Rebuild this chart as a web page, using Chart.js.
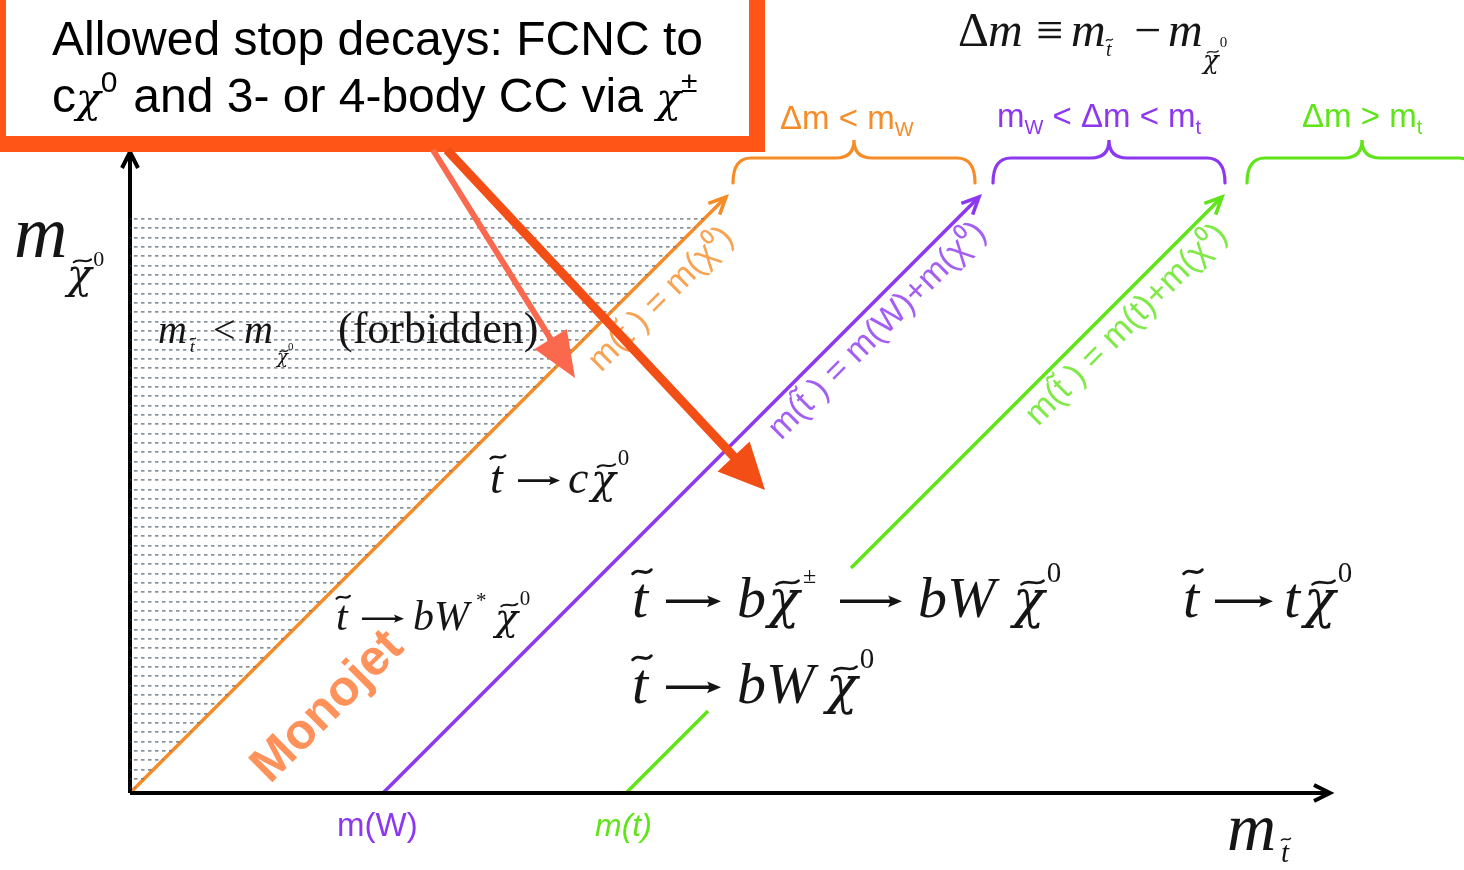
<!DOCTYPE html>
<html><head><meta charset="utf-8">
<script src="https://cdn.jsdelivr.net/npm/chart.js@4.4.1/dist/chart.umd.min.js"></script>
<style>html,body{margin:0;padding:0;background:#fff;overflow:hidden}</style>
</head><body>
<canvas id="c" width="1464" height="870"></canvas>
<script>
// Stop / neutralino mass plane: x = m(stop), y = m(neutralino), in diagram units
const boundaryNames   = ['m(t̃ ) = m(χ⁰)', 'm(t̃ ) = m(W)+m(χ⁰)', 'm(t̃ ) = m(t)+m(χ⁰)'];
const boundaryOffsets = [0, 253, 496];          // Δm along each boundary: 0, m(W), m(t)
const boundaryTop     = 596;                     // neutralino mass where the boundaries stop
const topLineGap      = [82, 225];               // y range where the m(t) boundary is interrupted
const forbiddenTop    = 578;                     // upper edge of the shaded forbidden region
const axisEnds        = { x: 1200, y: 641 };
const axisTickNames   = ['m(W)', 'm(t)'];

const ORANGE = 'rgb(246,140,40)';
const PURPLE = 'rgb(140,55,240)';
const GREEN  = 'rgb(95,228,25)';
const INK    = '#151515';
const SERIF  = '"Liberation Serif","DejaVu Serif",serif';
const SANS   = '"Liberation Sans",Arial,sans-serif';
const CHI_F  = '"DejaVu Serif",serif';          // Greek chi with a proper descender

// dotted fill for the forbidden region
function hatchPattern() {
  const c = document.createElement('canvas');
  c.width = 7; c.height = 28;
  const g = c.getContext('2d');
  g.fillStyle = 'rgba(105,118,128,0.8)';
  [3, 13, 22].forEach(r => g.fillRect(1, r, 3.5, 1.7));
  return document.getElementById('c').getContext('2d').createPattern(c, 'repeat');
}

function seg(x0, y0, x1, y1) { return [{x: x0, y: y0}, {x: x1, y: y1}]; }
function lineDs(data, color, width, extra) {
  return Object.assign({ data, showLine: true, borderColor: color, borderWidth: width,
    pointRadius: 0, pointHoverRadius: 0, fill: false }, extra || {});
}

const datasets = [
  lineDs(seg(0, 0, forbiddenTop, forbiddenTop), 'rgba(0,0,0,0)', 0,
         { fill: { value: forbiddenTop }, backgroundColor: hatchPattern() }),
  lineDs(seg(0, 0, axisEnds.x, 0), '#000', 4),
  lineDs(seg(0, 0, 0, axisEnds.y), '#000', 4),
  lineDs(seg(boundaryOffsets[0], 0, boundaryOffsets[0] + boundaryTop, boundaryTop), ORANGE, 3.6),
  lineDs(seg(boundaryOffsets[1], 0, boundaryOffsets[1] + boundaryTop, boundaryTop), PURPLE, 3.6),
  lineDs(seg(boundaryOffsets[2], 0, boundaryOffsets[2] + topLineGap[0], topLineGap[0]), GREEN, 3.6),
  lineDs(seg(boundaryOffsets[2] + topLineGap[1], topLineGap[1], boundaryOffsets[2] + boundaryTop, boundaryTop), GREEN, 3.6)
];

function tilde(ctx, cx, cy, w, size, color) {
  const a = size * 0.035;
  ctx.save();
  ctx.strokeStyle = color; ctx.lineWidth = Math.max(1.2, size * 0.05); ctx.lineCap = 'round';
  ctx.beginPath();
  ctx.moveTo(cx - w / 2, cy + a);
  ctx.bezierCurveTo(cx - w / 6, cy - a * 2.6, cx + w / 6, cy + a * 2.6, cx + w / 2, cy - a);
  ctx.stroke();
  ctx.restore();
}

function mathArrow(ctx, x, y, len, size, color) {
  const yy = y - size * 0.27, head = size * 0.24, half = size * 0.1;
  ctx.save();
  ctx.strokeStyle = color; ctx.fillStyle = color;
  ctx.lineWidth = size * 0.06;
  ctx.beginPath(); ctx.moveTo(x, yy); ctx.lineTo(x + len - head * 0.7, yy); ctx.stroke();
  ctx.beginPath();
  ctx.moveTo(x + len, yy); ctx.lineTo(x + len - head, yy - half);
  ctx.quadraticCurveTo(x + len - head * 0.7, yy, x + len - head, yy + half);
  ctx.closePath(); ctx.fill();
  ctx.restore();
}

// rich text: each part {t, i, s, dy, x, gap, tilde, arrow, sx, f}
function rich(ctx, x, y, size, parts, color, family) {
  let cx = x;
  ctx.textBaseline = 'alphabetic';
  ctx.textAlign = 'left';
  for (const p of parts) {
    if (p.x !== undefined) cx = p.x;
    const isChi = p.t === 'χ';
    const s = size * (p.s || 1) * (isChi && !p.f ? 0.9 : 1);
    const by = y + (p.dy || 0) * size;
    if (p.arrow) {
      mathArrow(ctx, cx, by, p.arrow, s, color);
      cx += p.arrow + (p.gap || 0) * size;
      continue;
    }
    const sx = p.sx || 1;
    const fam = p.f || (isChi ? CHI_F : (family || SERIF));
    ctx.font = (p.b ? 'bold ' : '') + (p.i ? 'italic ' : '') + Math.round(s) + 'px ' + fam;
    ctx.fillStyle = color;
    ctx.save();
    ctx.translate(cx, by); ctx.scale(sx, 1);
    ctx.fillText(p.t, 0, 0);
    ctx.restore();
    const w = ctx.measureText(p.t).width * sx;
    if (p.tilde) {
      const tall = p.t === 't';
      tilde(ctx, cx + w * 0.62, by - s * (tall ? 0.78 : 0.66), Math.max(w * 0.7, s * 0.32), s, color);
    }
    cx += w + (p.gap || 0) * size;
  }
  return cx;
}

function arrowHead(ctx, x, y, ang, len, half, color, filled, lw) {
  ctx.save();
  ctx.translate(x, y); ctx.rotate(ang);
  ctx.beginPath();
  ctx.moveTo(-len, -half); ctx.lineTo(0, 0); ctx.lineTo(-len, half);
  if (filled) { ctx.closePath(); ctx.fillStyle = color; ctx.fill(); }
  else { ctx.strokeStyle = color; ctx.lineWidth = lw || 3; ctx.lineJoin = 'miter'; ctx.stroke(); }
  ctx.restore();
}

function brace(ctx, x1, x2, y, color) {
  const cx = (x1 + x2) / 2, r = 18, drop = 25, rise = 18;
  ctx.save();
  ctx.strokeStyle = color; ctx.lineWidth = 3.2; ctx.lineCap = 'round';
  ctx.beginPath();
  ctx.moveTo(x1, y + drop);
  ctx.quadraticCurveTo(x1, y, x1 + r, y);
  ctx.lineTo(cx - r, y);
  ctx.quadraticCurveTo(cx, y, cx, y - rise);
  ctx.quadraticCurveTo(cx, y, cx + r, y);
  ctx.lineTo(x2 - r, y);
  ctx.quadraticCurveTo(x2, y, x2, y + drop);
  ctx.stroke();
  ctx.restore();
}

function pointer(ctx, x0, y0, x1, y1, color, width, len, half) {
  const ang = Math.atan2(y1 - y0, x1 - x0);
  ctx.save();
  ctx.strokeStyle = color; ctx.lineWidth = width; ctx.lineCap = 'butt';
  ctx.beginPath();
  ctx.moveTo(x0, y0);
  ctx.lineTo(x1 - Math.cos(ang) * len * 0.8, y1 - Math.sin(ang) * len * 0.8);
  ctx.stroke();
  ctx.restore();
  arrowHead(ctx, x1, y1, ang, len, half, color, true);
}

const SUP0 = { t: '0', s: 0.5, dy: -0.6, gap: 0 };

const decorations = {
  id: 'decorations',
  afterDatasetsDraw(chart) {
    const ctx = chart.ctx;
    const X = v => chart.scales.x.getPixelForValue(v);
    const Y = v => chart.scales.y.getPixelForValue(v);

    // arrowheads on axes and boundaries
    arrowHead(ctx, X(axisEnds.x), Y(0), 0, 16, 8, '#000', false, 4);
    arrowHead(ctx, X(0), Y(axisEnds.y), -Math.PI / 2, 16, 8, '#000', false, 4);
    [ORANGE, PURPLE, GREEN].forEach((col, i) => {
      const o = boundaryOffsets[i];
      arrowHead(ctx, X(o + boundaryTop), Y(boundaryTop), -Math.PI / 4, 17, 8, col, false, 3.6);
    });

    // Δm region braces and labels
    brace(ctx, 733, 975, 158, ORANGE);
    brace(ctx, 993, 1225, 158, PURPLE);
    brace(ctx, 1247, 1477, 158, GREEN);
    rich(ctx, 780, 129, 33, [{t: 'Δm < m'}, {t: 'W', s: 0.6, dy: 0.2}], ORANGE, SANS);
    rich(ctx, 997, 127, 33, [{t: 'm'}, {t: 'W', s: 0.6, dy: 0.2}, {t: ' < Δm < m'}, {t: 't', s: 0.6, dy: 0.2}], PURPLE, SANS);
    rich(ctx, 1302, 127, 33, [{t: 'Δm > m'}, {t: 't', s: 0.6, dy: 0.2}], GREEN, SANS);

    // boundary labels along the diagonals
    const lbl = [[601, 373, ORANGE], [781, 441, PURPLE], [1038, 427, GREEN]];
    lbl.forEach(([x, y, col], i) => {
      ctx.save();
      ctx.translate(x, y); ctx.rotate(-Math.PI / 4);
      ctx.globalAlpha = 0.8;
      rich(ctx, 0, 0, 34, [{t: boundaryNames[i]}], col, SANS);
      ctx.restore();
    });

    // Δm definition
    rich(ctx, 958, 46, 48, [{t: 'Δ', x: 958}, {t: 'm', i: 1, x: 988}, {t: '≡', x: 1036},
      {t: 'm', i: 1, x: 1071}, {t: 't', i: 1, s: 0.42, dy: 0.2, tilde: 1, x: 1106},
      {t: '−', x: 1134}, {t: 'm', i: 1, x: 1168}, {t: 'χ', i: 1, s: 0.6, dy: 0.48, tilde: 1, x: 1203, gap: 0.02},
      {t: '0', s: 0.32, dy: 0.02}], INK);

    // axis titles and ticks
    rich(ctx, 14, 257, 74, [{t: 'm', i: 1}, {t: 'χ', i: 1, s: 0.62, dy: 0.42, tilde: 1, x: 67, gap: 0.02}, {t: '0', s: 0.3, dy: 0.12}], INK);
    rich(ctx, 1227, 850, 68, [{t: 'm', i: 1}, {t: 't', i: 1, s: 0.42, dy: 0.17, tilde: 1, x: 1281}], INK);
    rich(ctx, 337, 836, 33, [{t: axisTickNames[0]}], PURPLE, SANS);
    rich(ctx, 595, 836, 32, [{t: axisTickNames[1], i: 1}], GREEN, SANS);

    // forbidden region label
    rich(ctx, 158, 343, 40, [{t: 'm', i: 1}, {t: 't', i: 1, s: 0.42, dy: 0.22, tilde: 1, x: 190},
      {t: '<', x: 213}, {t: 'm', i: 1, x: 244}, {t: 'χ', i: 1, s: 0.5, dy: 0.5, tilde: 1, x: 277},
      {t: '0', s: 0.28, dy: 0.18}, {t: '(forbidden)', s: 1.1, x: 338}], INK);

    // decay modes
    rich(ctx, 490, 493, 46, [{t: 't', i: 1, tilde: 1}, {arrow: 42, x: 518}, {t: 'c', i: 1, x: 568},
      {t: 'χ', i: 1, tilde: 1, x: 591, gap: 0.04}, SUP0], INK);
    rich(ctx, 336, 630, 42, [{t: 't', i: 1, tilde: 1}, {arrow: 42, x: 362}, {t: 'bW', i: 1, x: 413},
      {t: '*', s: 0.5, dy: -0.55, x: 476}, {t: 'χ', i: 1, tilde: 1, x: 495, gap: 0.04}, SUP0], INK);
    rich(ctx, 632, 617, 58, [{t: 't', i: 1, tilde: 1}, {arrow: 55, x: 666}, {t: 'b', i: 1, x: 737},
      {t: 'χ', i: 1, tilde: 1, x: 768, gap: 0.06}, {t: '±', s: 0.42, dy: -0.58}, {arrow: 62, x: 840},
      {t: 'bW', i: 1, x: 918}, {t: 'χ', i: 1, tilde: 1, x: 1013, gap: 0.04}, SUP0], INK);
    rich(ctx, 632, 703, 58, [{t: 't', i: 1, tilde: 1}, {arrow: 55, x: 666}, {t: 'bW', i: 1, x: 737},
      {t: 'χ', i: 1, tilde: 1, x: 826, gap: 0.04}, SUP0], INK);
    rich(ctx, 1183, 617, 58, [{t: 't', i: 1, tilde: 1}, {arrow: 58, x: 1215}, {t: 't', i: 1, x: 1284},
      {t: 'χ', i: 1, tilde: 1, x: 1304, gap: 0.04}, SUP0], INK);

    // Monojet
    ctx.save();
    ctx.translate(328, 707); ctx.rotate(-Math.PI / 4);
    ctx.font = 'bold 50px ' + SANS;
    ctx.fillStyle = 'rgb(255,145,90)';
    ctx.textAlign = 'center'; ctx.textBaseline = 'middle';
    ctx.fillText('Monojet', 0, 0);
    ctx.restore();

    // callout box
    ctx.save();
    ctx.fillStyle = '#fff';
    ctx.fillRect(0, 0, 757, 144);
    ctx.strokeStyle = 'rgb(255,85,22)';
    ctx.lineWidth = 16;
    ctx.strokeRect(-2, -30, 759, 174);
    ctx.restore();
    rich(ctx, 52, 55, 48, [{t: 'Allowed stop decays: FCNC to'}], '#000', SANS);
    rich(ctx, 52, 112, 48, [{t: 'c'}, {t: 'χ', i: 1, s: 0.95}, {t: '0', s: 0.62, dy: -0.42, gap: 0.05},
      {t: ' and 3- or 4-body CC via '}, {t: 'χ', i: 1, s: 0.95}, {t: '±', s: 0.62, dy: -0.42}], '#000', SANS);

    // callout pointers
    pointer(ctx, 433, 150, 575, 378, 'rgb(250,104,78)', 6, 46, 19);
    pointer(ctx, 447, 150, 765, 490, 'rgb(242,78,22)', 9, 46, 22);
  }
};

new Chart(document.getElementById('c'), {
  type: 'scatter',
  data: { datasets },
  options: {
    responsive: false,
    animation: false,
    events: [],
    layout: { padding: 0 },
    plugins: { legend: { display: false }, tooltip: { enabled: false } },
    scales: {
      x: { type: 'linear', display: false, min: -130, max: 1334 },
      y: { type: 'linear', display: false, min: -77, max: 793 }
    }
  },
  plugins: [decorations]
});
</script>
</body></html>
